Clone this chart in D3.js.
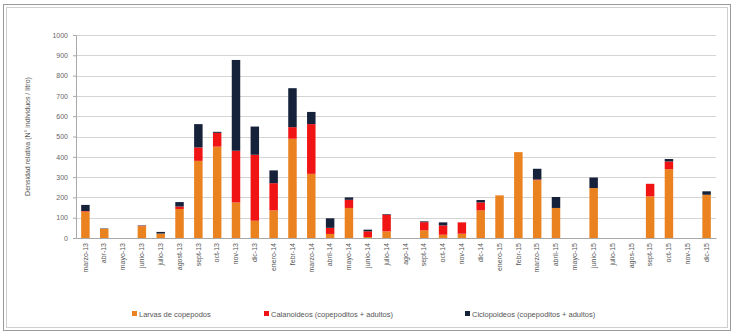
<!DOCTYPE html>
<html>
<head>
<meta charset="utf-8">
<script src="https://cdn.jsdelivr.net/npm/d3@7"></script>
<style>
  html, body { margin: 0; padding: 0; background: #fff; }
  svg { display: block; font-family: "Liberation Sans", Arial, sans-serif; }
</style>
</head>
<body>
<svg id="chart" width="735" height="336"></svg>
<script>
// Monthly sampling dates
const months = ["marzo-13","abr-13","mayo-13","junio-13","julio-13","agost-13","sept-13","oct-13","nov-13","dic-13",
  "enero-14","febr-14","marzo-14","abril-14","mayo-14","junio-14","julio-14","ago-14","sept-14","oct-14","nov-14","dic-14",
  "enero-15","febr-15","marzo-15","abril-15","mayo-15","junio-15","julio-15","agos-15","sept-15","oct-15","nov-15","dic-15"];

// Relative density (individuals / litre) per group
const larvas = [130,45,0,58,22,143,380,450,175,85,136,489,316,20,148,5,33,0,38,16,21,136,210,423,285,148,0,246,0,0,205,339,0,213];
const calanoideos = [3,0,0,2,0,12,66,68,255,325,134,57,245,30,40,28,82,0,40,46,56,39,0,0,3,0,0,0,0,0,62,38,0,0];
const ciclopoideos = [30,2,0,2,8,22,115,5,447,139,63,192,60,47,12,8,3,0,4,15,0,12,0,0,53,54,0,52,0,0,0,12,0,17];

const yTicks = [0,100,200,300,400,500,600,700,800,900,1000];
const seriesNames = ["Larvas de copepodos","Calanoideos (copepoditos + adultos)","Ciclopoideos (copepoditos + adultos)"];
const seriesColors = ["#ea821f","#f01414","#16213a"];

const svg = d3.select("#chart");

// outer frame
svg.append("rect").attr("x",3.5).attr("y",4.5).attr("width",727).attr("height",326)
  .attr("fill","none").attr("stroke","#9a9a9a").attr("stroke-width",1);
svg.append("rect").attr("x",6.5).attr("y",7.5).attr("width",721).attr("height",320)
  .attr("fill","none").attr("stroke","#cfcfcf").attr("stroke-width",1);

const plot = {left: 76, right: 716, top: 35, bottom: 238};

const x = d3.scaleBand().domain(months).range([plot.left, plot.right]).paddingInner(0.55).paddingOuter(0.275);
const y = d3.scaleLinear().domain([0,1000]).range([plot.bottom, plot.top]);

// gridlines
svg.append("g").selectAll("line").data(yTicks.filter(d => d > 0)).join("line")
  .attr("x1", plot.left).attr("x2", plot.right)
  .attr("y1", d => Math.round(y(d)) + 0.5).attr("y2", d => Math.round(y(d)) + 0.5)
  .attr("stroke", "#d4d4d4").attr("stroke-width", 1);

// stacked bars
const rows = months.map((m, i) => ({month: m, a: larvas[i], b: calanoideos[i], c: ciclopoideos[i]}));
const stack = d3.stack().keys(["a","b","c"])(rows);
svg.append("g").selectAll("g").data(stack).join("g")
  .attr("fill", (d, i) => seriesColors[i])
  .selectAll("rect").data(d => d).join("rect")
  .attr("x", d => x(d.data.month))
  .attr("width", x.bandwidth())
  .attr("y", d => y(d[1]))
  .attr("height", d => Math.max(0, y(d[0]) - y(d[1])));

// y axis
const yAxis = svg.append("g").attr("transform", `translate(${plot.left},0)`)
  .call(d3.axisLeft(y).tickValues(yTicks).tickFormat(d3.format("d")).tickSize(3).tickPadding(5));
yAxis.select(".domain").attr("stroke", "#a8a8a8");
yAxis.selectAll(".tick line").attr("stroke", "#a8a8a8");
yAxis.selectAll("text").attr("fill", "#666").style("font-size", "7px");

// x axis
const xAxis = svg.append("g").attr("transform", `translate(0,${plot.bottom})`)
  .call(d3.axisBottom(x).tickSize(0).tickPadding(4));
xAxis.select(".domain").attr("stroke", "#a8a8a8");
xAxis.selectAll("text")
  .attr("fill", "#555").style("font-size", "7px")
  .attr("transform", "rotate(-90)")
  .attr("text-anchor", "end")
  .attr("x", -5).attr("y", 0).attr("dy", "0.32em");

// y axis title
svg.append("text")
  .attr("transform", `translate(30,${(plot.top + plot.bottom) / 2}) rotate(-90)`)
  .attr("text-anchor", "middle")
  .attr("fill", "#555").style("font-size", "7px")
  .text("Densidad relativa (N° individuos / litro)");

// legend
const legendX = [132, 264, 465];
const legend = svg.append("g").selectAll("g").data(seriesNames).join("g")
  .attr("transform", (d, i) => `translate(${legendX[i]},314)`);
legend.append("rect").attr("x", 0).attr("y", -3).attr("width", 5).attr("height", 5)
  .attr("fill", (d, i) => seriesColors[i]);
legend.append("text").attr("x", 7).attr("y", 0).attr("dy", "0.35em")
  .attr("fill", "#555").style("font-size", "7.5px").text(d => d);
</script>
</body>
</html>
